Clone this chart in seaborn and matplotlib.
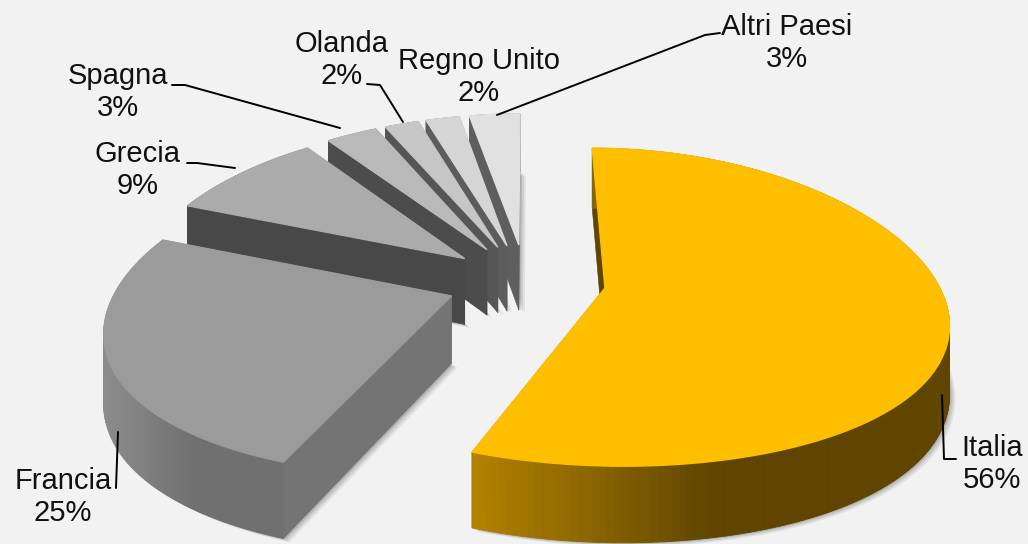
# 3D style exploded pie: shares of each country
import numpy as np
import seaborn as sns
import matplotlib.pyplot as plt

sns.set_theme(style="white")
plt.rcParams["font.family"] = ["Liberation Sans", "DejaVu Sans"]

countries = ["Italia", "Francia", "Grecia", "Spagna", "Olanda", "Regno Unito", "Altri Paesi"]
shares = [56, 25, 9, 3, 2, 2, 3]

top_colors = ["#fdbf00", "#9b9b9b", "#ababab", "#b9b9b9", "#c6c6c6", "#d5d5d5", "#e1e1e1"]
side_colors = ["#5f4500", "#747474", "#484848", "#4c4c4c", "#565656", "#5c5c5c", "#5e5e5e"]
rim_left = ["#b38200", "#8c8c8c", "#484848", "#4c4c4c", "#565656", "#5c5c5c", "#5e5e5e"]
rim_right = ["#5f4500", "#707070", "#484848", "#4c4c4c", "#565656", "#5c5c5c", "#5e5e5e"]

# label centre, then leader line points
label_pos = {
    "Italia": (992, 464), "Francia": (63, 497), "Grecia": (138, 170), "Spagna": (118, 92),
    "Olanda": (342, 60), "Regno Unito": (479, 77), "Altri Paesi": (787, 43),
}
leaders = {
    "Italia": [(942, 395), (944, 459), (956, 459)],
    "Francia": [(116, 488), (118, 432)],
    "Grecia": [(187, 163), (197, 163), (235, 168)],
    "Spagna": [(172, 85), (185, 85), (340, 128)],
    "Olanda": [(367, 84), (380, 85), (403, 122)],
    "Altri Paesi": [(720, 33), (705, 35), (497, 115)],
}

# projection settings, in pixels
CX, CY = 526, 281
RX, RY = 332, 155
PERSP_X, PERSP_Y = 0.19, 0.12
EXPLODE = 0.24
DEPTH = 67


def project(x, y):
    s = 1 / (1 + PERSP_Y * y)
    return CX + RX * x / (1 + PERSP_X * y), CY - RY * y * s, s


def extrude(x, y):
    px, py, s = project(x, y)
    return px, py + DEPTH * s


fig = plt.figure(figsize=(10.28, 5.44), dpi=100, facecolor="#f2f2f2")
ax = fig.add_axes([0, 0, 1, 1])
ax.set_xlim(0, 1028)
ax.set_ylim(544, 0)
ax.axis("off")

# angles run clockwise from 12 o'clock
edges = np.radians(np.concatenate([[0], np.cumsum(shares)]) * 3.6)

# draw back to front, the small slices first
for i in range(len(shares) - 1, -1, -1):
    a0, a1 = edges[i], edges[i + 1]
    mid = (a0 + a1) / 2
    ox, oy = EXPLODE * np.sin(mid), EXPLODE * np.cos(mid)
    ang = np.linspace(a0, a1, max(int(np.degrees(a1 - a0)), 8))
    xs = np.concatenate([[ox], ox + np.sin(ang)])
    ys = np.concatenate([[oy], oy + np.cos(ang)])

    tx, ty, _ = project(xs, ys)
    bx, by = extrude(xs, ys)

    # soft shadow under the slice
    for off, alpha in [(6, 0.10), (4, 0.15), (2, 0.2)]:
        ax.fill(bx + off, by + off * 0.6, color="#555555", alpha=alpha, lw=0)

    # the two straight walls
    for k in (1, -1):
        ax.fill([tx[0], tx[k], bx[k], bx[0]], [ty[0], ty[k], by[k], by[0]],
                color=side_colors[i], lw=0.4)

    # rim, shaded by position from left to right
    shades = sns.blend_palette([rim_left[i], rim_right[i], rim_right[i]], 64)
    x_min, x_max = tx[1:].min(), tx[1:].max()
    for j in range(1, len(ang)):
        frac = (tx[j] - x_min) / (x_max - x_min)
        ax.fill([tx[j], tx[j + 1], bx[j + 1], bx[j]], [ty[j], ty[j + 1], by[j + 1], by[j]],
                color=shades[int(frac * 63)], lw=0.6)

    # top face
    ax.fill(tx, ty, color=top_colors[i], lw=1)

for name, value in zip(countries, shares):
    lx, ly = label_pos[name]
    ax.text(lx, ly, f"{name}\n{value}%", ha="center", va="center", fontsize=21,
            linespacing=1.2, color="#111111", zorder=10)
    if name in leaders:
        pts = np.array(leaders[name])
        ax.plot(pts[:, 0], pts[:, 1], color="black", lw=1.4, zorder=9)

fig.savefig("out.png", dpi=100, facecolor=fig.get_facecolor())
